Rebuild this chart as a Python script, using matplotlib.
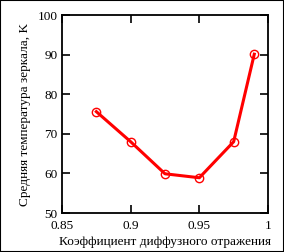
import matplotlib
matplotlib.use("Agg")
import matplotlib.pyplot as plt
from matplotlib.patches import Rectangle

# коэффициент диффузного отражения и средняя температура зеркала
refl = [0.875, 0.9, 0.925, 0.95, 0.975, 0.99]
temp = [75.6, 68.0, 59.9, 58.9, 68.0, 90.1]

xticks = [0.85, 0.9, 0.95, 1.0]
xticklabels = ["0.85", "0.9", "0.95", "1"]
yticks = [50, 60, 70, 80, 90, 100]

plt.rcParams['font.family'] = ['Liberation Serif', 'DejaVu Serif']
plt.rcParams['font.size'] = 9.5

fig = plt.figure(figsize=(2.84, 2.52), dpi=100)
ax = fig.add_axes([62 / 284, 1 - 213 / 252, 206 / 284, 198 / 252])

ax.plot(refl, temp, color='#ff0000', lw=2.2, marker='o', ms=6,
        mfc='none', mec='#ff0000', mew=1.0)

ax.set_xlim(0.85, 1.0)
ax.set_ylim(50, 100)
ax.set_xticks(xticks)
ax.set_xticklabels(xticklabels)
ax.set_yticks(yticks)
ax.tick_params(direction='in', length=6, width=1.2, top=True, right=True)
ax.tick_params(axis='x', pad=5)
ax.tick_params(axis='y', pad=3)
for s in ax.spines.values():
    s.set_linewidth(1.3)

ax.set_xlabel('Коэффициент диффузного отражения', labelpad=3)
ax.set_ylabel('Средняя температура зеркала, K', labelpad=5)

fig.patches.append(Rectangle((0, 0), 1, 1, transform=fig.transFigure,
                             fill=False, edgecolor='black', lw=1.5))

fig.savefig('out.png', dpi=100)
